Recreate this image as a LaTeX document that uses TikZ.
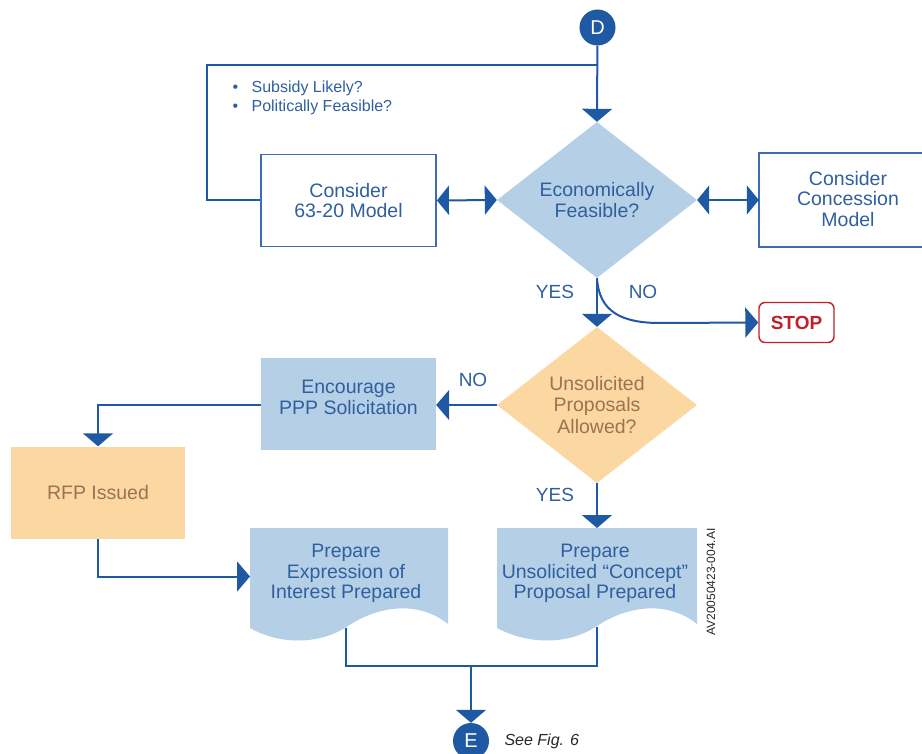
\documentclass[tikz,border=0pt]{standalone}
\usepackage{fontspec}
\setmainfont{Liberation Sans}
\usetikzlibrary{arrows.meta,shapes.geometric}
\definecolor{dblue}{HTML}{1F58A3}
\definecolor{tblue}{HTML}{2F5F9F}
\definecolor{bblue}{HTML}{3A6DB2}
\definecolor{lblue}{HTML}{B5D0E6}
\definecolor{lorange}{HTML}{FBD7A2}
\definecolor{brn}{HTML}{9A7352}
\definecolor{sred}{HTML}{C0202A}
\newcommand\boxfont{\fontsize{19.5}{20.5}\selectfont}
\begin{document}
\begin{tikzpicture}[x=1pt,y=-1pt,
  conn/.style={draw=dblue,line width=2pt},
  arr/.style={conn,-{Triangle[width=30pt,length=13pt]}},
  dblarr/.style={conn,{Triangle[width=29pt,length=12pt]}-{Triangle[width=29pt,length=12pt]}},
  boxtext/.style={font=\boxfont,text=tblue,align=center},
  boxline/.style={draw=bblue,line width=1.8pt},
  wbox/.style={boxtext,boxline,fill=white,minimum width=175pt,minimum height=92pt,inner sep=0pt},
  bbox/.style={boxtext,fill=lblue,minimum width=175pt,minimum height=92pt,inner sep=0pt},
  obox/.style={font=\boxfont,text=brn,align=center,fill=lorange,minimum width=174pt,minimum height=92pt,inner sep=0pt},
  dia/.style={diamond,boxtext,aspect=1.3,minimum width=200pt,minimum height=156pt,inner sep=0pt},
  circ/.style={circle,fill=dblue,text=white,font=\fontsize{20}{20}\selectfont,minimum size=36pt,inner sep=0pt},
  lbl/.style={font=\fontsize{19}{19}\selectfont,text=tblue},
  stopbox/.style={draw=sred,line width=1.4pt,rounded corners=6pt,text=sred,font=\fontsize{19}{19}\selectfont\bfseries,minimum width=75pt,minimum height=40pt,inner sep=0pt,fill=white},
  doctext/.style={boxtext,inner sep=0pt}
]
\useasboundingbox (0,0) rectangle (922,754);

% document shapes (fills)
\fill[lblue] (250,528) -- (448,528) -- (448,624) .. controls (418,600) and (378,606) .. (348,626) .. controls (318,646) and (278,644) .. (250,628) -- cycle;
\fill[lblue] (497,528) -- (697,528) -- (697,624) .. controls (667,600) and (627,606) .. (597,626) .. controls (567,646) and (527,644) .. (497,628) -- cycle;

% nodes
\node[circ] (D) at (597.5,27.5) {D};
\node[wbox] (m6320) at (348.5,200.5) {Consider\\63-20 Model};
\node[dia,fill=lblue] (ef) at (597,200) {Economically\\Feasible?};
\node[minimum width=163pt,minimum height=93pt,inner sep=0pt] (conc) at (840.5,200) {};
\draw[boxline] (conc.north east) -- (conc.north west) -- (conc.south west) -- (conc.south east);
\node[boxtext] (conct) at (848,199) {Consider\\Concession\\Model};
\node[stopbox] (stop) at (796.5,322.5) {STOP};
\node[dia,fill=lorange,text=brn,font=\fontsize{19.5}{21.5}\selectfont] (upa) at (597,405) {Unsolicited\\Proposals\\Allowed?};
\node[bbox,text depth=13pt] (enc) at (348.5,404) {Encourage\\PPP Solicitation};
\node[obox] (rfp) at (98,492.5) {RFP Issued};
\node[doctext] (doc1) at (346,573.5) {Prepare\\Expression of\\Interest Prepared};
\node[doctext] (doc2) at (595,573.5) {Prepare\\Unsolicited \char"201C Concept\char"201D\\Proposal Prepared};
\coordinate (d1b) at (346,628);
\coordinate (d2b) at (597,627);
\node[circ] (E) at (471,741) {E};
\node[font=\fontsize{16}{16}\selectfont\itshape,text=black!85,anchor=west] (see) at (501,741) {See Fig. 6};
\node[font=\fontsize{12}{12}\selectfont,rotate=90,text=black!85] (av) at (711,582) {AV20050423-004.AI};

% bullets
\node[font=\fontsize{16}{19.5}\selectfont,text=tblue,align=left,anchor=west] (bul) at (229,98) {\textbullet\hspace{13.5pt}Subsidy Likely?\\\textbullet\hspace{13.5pt}Politically Feasible?};

% labels
\node[lbl] (yes1) at (555,292) {YES};
\node[lbl] (no1) at (643,292) {NO};
\node[lbl] (no2) at (473,380) {NO};
\node[lbl] (yes2) at (555,495) {YES};

% connectors
\coordinate (j1) at (597.5,65);
\draw[arr] (D) -- (ef.north);
\draw[conn] (j1) -- (207,65) |- (m6320.west);
\draw[dblarr] (m6320.east) -- (ef.west);
\draw[dblarr] (ef.east) -- (conc.west);
\draw[arr] (ef.south) -- (upa.north);
\draw[arr] (ef.south) .. controls (599,312) and (622,323) .. (660,323) -- (stop.west);
\draw[arr] (upa.west) -- (enc.east |- upa.west);
\draw[arr] (enc.west |- upa.west) -| (rfp.north);
\draw[arr] (rfp.south) |- (250,576.5);
\draw[arr] (upa.south) -- (597,528);
\coordinate (j2) at (471,666);
\draw[conn] (d1b) |- (j2) -| (d2b);
\draw[arr] (j2) -- (E.north);
\end{tikzpicture}
\end{document}
